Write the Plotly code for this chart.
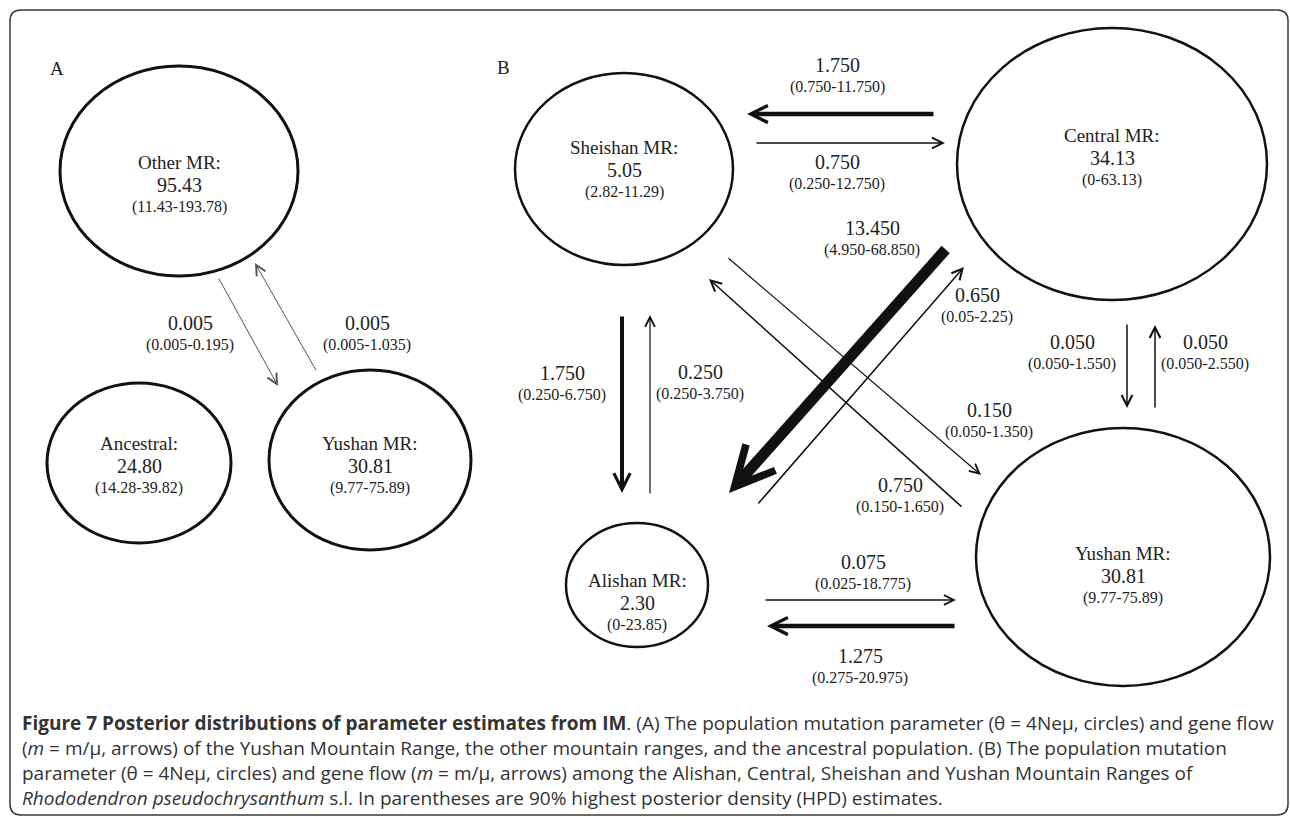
import plotly.graph_objects as go

# ---------------- data ----------------
# Panel A: population mutation parameter (theta) and 90% HPD
nodes_a = ["Other MR:", "Ancestral:", "Yushan MR:"]
theta_a = [95.43, 24.80, 30.81]
hpd_a = ["11.43-193.78", "14.28-39.82", "9.77-75.89"]

# Panel A gene flow (m) : source -> target
flow_a_src = ["Other MR:", "Yushan MR:"]
flow_a_dst = ["Yushan MR:", "Other MR:"]
flow_a_m = [0.005, 0.005]
flow_a_hpd = ["0.005-0.195", "0.005-1.035"]

# Panel B
nodes_b = ["Sheishan MR:", "Central MR:", "Alishan MR:", "Yushan MR:"]
theta_b = [5.05, 34.13, 2.30, 30.81]
hpd_b = ["2.82-11.29", "0-63.13", "0-23.85", "9.77-75.89"]

flow_b_src = ["Central", "Sheishan", "Central", "Alishan", "Sheishan", "Alishan",
              "Central", "Yushan", "Sheishan", "Yushan", "Alishan", "Yushan"]
flow_b_dst = ["Sheishan", "Central", "Alishan", "Central", "Alishan", "Sheishan",
              "Yushan", "Central", "Yushan", "Sheishan", "Yushan", "Alishan"]
flow_b_m = [1.750, 0.750, 13.450, 0.650, 1.750, 0.250,
            0.050, 0.050, 0.150, 0.750, 0.075, 1.275]
flow_b_hpd = ["0.750-11.750", "0.250-12.750", "4.950-68.850", "0.05-2.25",
              "0.250-6.750", "0.250-3.750", "0.050-1.550", "0.050-2.550",
              "0.050-1.350", "0.150-1.650", "0.025-18.775", "0.275-20.975"]

caption_lines = [
    "<b>Figure 7 Posterior distributions of parameter estimates from IM</b>. (A) The population mutation parameter (θ = 4Neμ, circles) and gene flow",
    "(<i>m</i> = m/μ, arrows) of the Yushan Mountain Range, the other mountain ranges, and the ancestral population. (B) The population mutation",
    "parameter (θ = 4Neμ, circles) and gene flow (<i>m</i> = m/μ, arrows) among the Alishan, Central, Sheishan and Yushan Mountain Ranges of",
    "<i>Rhododendron pseudochrysanthum</i> s.l. In parentheses are 90% highest posterior density (HPD) estimates.",
]

# ---------------- layout geometry (pixel space) ----------------
# ellipse: (cx, cy, rx, ry, text_y_top, line_width)
geo_nodes_a = [(179, 171, 119, 105, 162, 3), (139, 463, 92, 80, 443, 3), (370, 460, 101, 90, 443, 3)]
geo_nodes_b = [(624, 169, 109, 96, 147, 2.5), (1112, 164, 155, 136, 135, 2.5),
               (637, 585, 71, 62, 580, 2.5), (1123, 557, 147, 129, 553, 2.5)]
# arrow: (tail_x, tail_y, head_x, head_y, width, headsize, label_x, label_y)
geo_flow_a = [(218, 277, 278, 386, 1.0, 2.0, 190, 323), (317, 372, 255, 263, 1.0, 2.0, 367, 323)]
geo_flow_b = [
    (935, 114, 747, 114, 4.5, 0.75, 837, 65),
    (755, 143, 945, 143, 1.5, 1.4, 837, 162),
    (947, 248, 729, 493, 11, 0.7, 872, 228),
    (757, 505, 964, 267, 1.5, 1.4, 977, 295),
    (622, 315, 622, 493, 4.0, 0.8, 562, 373),
    (650, 495, 650, 315, 1.2, 1.6, 700, 372),
    (1127, 323, 1127, 408, 1.5, 1.4, 1072, 342),
    (1155, 409, 1155, 325, 1.5, 1.4, 1205, 342),
    (727, 257, 981, 475, 1.2, 1.6, 989, 410),
    (963, 508, 709, 279, 1.5, 1.4, 900, 485),
    (764, 600, 956, 600, 1.3, 1.5, 863, 562),
    (956, 626, 767, 626, 4.5, 0.75, 860, 656),
]

W, H = 1290, 817
SERIF = "Liberation Serif, Times New Roman, serif"
TXT = "#222222"

fig = go.Figure()
fig.add_trace(go.Scatter(x=[0, W], y=[0, H], mode="markers",
                         marker=dict(opacity=0), hoverinfo="skip", showlegend=False))

shapes = []
annotations = []

# outer rounded frame
r = 11
x0, y0, x1, y1 = 10, 10, 1288, 815
path = (f"M {x0+r},{y0} L {x1-r},{y0} Q {x1},{y0} {x1},{y0+r} L {x1},{y1-r} "
        f"Q {x1},{y1} {x1-r},{y1} L {x0+r},{y1} Q {x0},{y1} {x0},{y1-r} "
        f"L {x0},{y0+r} Q {x0},{y0} {x0+r},{y0} Z")
shapes.append(dict(type="path", path=path, xref="x", yref="y",
                   line=dict(color="#3a3a3a", width=1.5)))


def txt(x, y, s, size, family=SERIF, xanchor="center", color=TXT):
    annotations.append(dict(x=x, y=y, xref="x", yref="y", text=s, showarrow=False,
                            font=dict(family=family, size=size, color=color),
                            xanchor=xanchor, yanchor="middle"))


def add_nodes(names, thetas, hpds, geos):
    for n, t, h, g in zip(names, thetas, hpds, geos):
        cx, cy, rx, ry, ty, lw = g
        shapes.append(dict(type="circle", xref="x", yref="y",
                           x0=cx - rx, x1=cx + rx, y0=cy - ry, y1=cy + ry,
                           line=dict(color="#111111", width=lw)))
        txt(cx, ty, n, 19)
        txt(cx, ty + 23, f"{t:.2f}", 20)
        txt(cx, ty + 45, f"({h})", 16)


def add_flows(ms, hpds, geos, color, fmt):
    for m, h, g in zip(ms, hpds, geos):
        tx, ty, hx, hy, w, hs, lx, ly = g
        annotations.append(dict(x=hx, y=hy, ax=tx, ay=ty, xref="x", yref="y",
                                axref="x", ayref="y", text="", showarrow=True,
                                arrowhead=5, arrowsize=hs, arrowwidth=w,
                                arrowcolor=color, standoff=0, startstandoff=0))
        txt(lx, ly, fmt.format(m), 20)
        txt(lx, ly + 22, f"({h})", 16)


add_nodes(nodes_a, theta_a, hpd_a, geo_nodes_a)
add_nodes(nodes_b, theta_b, hpd_b, geo_nodes_b)
add_flows(flow_a_m, flow_a_hpd, geo_flow_a, "#555555", "{:.3f}")
add_flows(flow_b_m, flow_b_hpd, geo_flow_b, "#111111", "{:.3f}")

txt(57, 68, "A", 19)
txt(503, 67, "B", 19)

cap_y = [723, 748, 773, 798]
for yy, line in zip(cap_y, caption_lines):
    txt(20, yy, line, 19, family="Open Sans, sans-serif", xanchor="left", color="#333333")

fig.update_layout(
    width=W, height=H, margin=dict(l=0, r=0, t=0, b=0),
    paper_bgcolor="white", plot_bgcolor="white",
    xaxis=dict(range=[0, W], visible=False, fixedrange=True),
    yaxis=dict(range=[H, 0], visible=False, fixedrange=True),
    shapes=shapes, annotations=annotations, showlegend=False,
)

fig.write_html("out.html", config={"displayModeBar": False},
               post_script="document.body.style.margin='0';document.body.style.overflow='hidden';")
